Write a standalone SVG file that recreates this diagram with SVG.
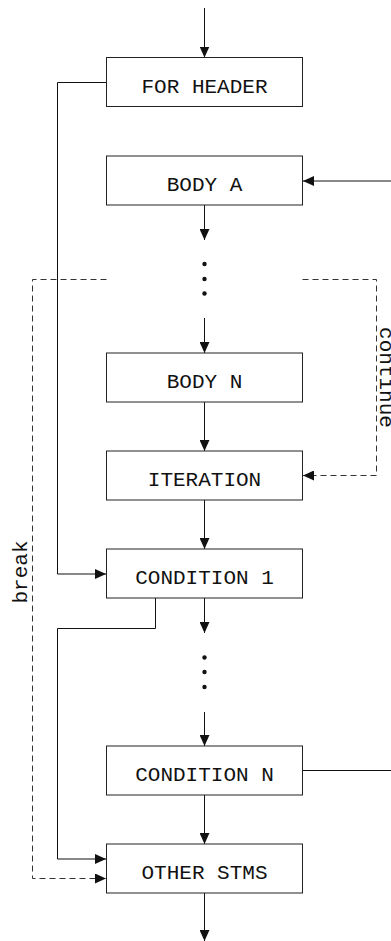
<svg xmlns="http://www.w3.org/2000/svg" width="391" height="941" viewBox="0 0 391 941">
<style>
.box{fill:#fff;stroke:#222;stroke-width:1}
.lbl{font-family:"Liberation Mono","DejaVu Sans Mono",monospace;font-size:21px;fill:#111;text-anchor:middle}
.ln{fill:none;stroke:#111;stroke-width:1}
.dash{fill:none;stroke:#333;stroke-width:1;stroke-dasharray:6 4}
.dot{fill:#111}
</style>
<defs>
<marker id="ah" viewBox="0 0 11 10" refX="11" refY="5" markerWidth="11" markerHeight="10" markerUnits="userSpaceOnUse" orient="auto">
<path d="M0,0 L11,5 L0,10 Z" fill="#111"/>
</marker>
</defs>
<g id="connectors">
<path class="ln" d="M204.5,8 V57.5" marker-end="url(#ah)"/>
<path class="ln" d="M106.5,82.5 H57.5 V574 H106" marker-end="url(#ah)"/>
<path class="ln" d="M391,181 H303" marker-end="url(#ah)"/>
<path class="ln" d="M204.5,205 V240" marker-end="url(#ah)"/>
<path class="ln" d="M204.5,318 V353" marker-end="url(#ah)"/>
<path class="ln" d="M204.5,402 V451" marker-end="url(#ah)"/>
<path class="ln" d="M204.5,500 V549" marker-end="url(#ah)"/>
<path class="ln" d="M204.5,598 V633" marker-end="url(#ah)"/>
<path class="ln" d="M204.5,712 V746" marker-end="url(#ah)"/>
<path class="ln" d="M204.5,795 V844" marker-end="url(#ah)"/>
<path class="ln" d="M204.5,893 V941" marker-end="url(#ah)"/>
<path class="ln" d="M155.5,598 V628.5 H57.5 V859 H106" marker-end="url(#ah)"/>
<path class="ln" d="M303,770.5 H391"/>
<path class="dash" d="M106.5,279.5 H32.5 V878.5 H106" marker-end="url(#ah)"/>
<path class="dash" d="M302.5,279.5 H376.5 V475.5 H303" marker-end="url(#ah)"/>
<circle class="dot" cx="204.5" cy="264" r="2.2"/>
<circle class="dot" cx="204.5" cy="279" r="2.2"/>
<circle class="dot" cx="204.5" cy="293.5" r="2.2"/>
<circle class="dot" cx="204.5" cy="657.5" r="2.2"/>
<circle class="dot" cx="204.5" cy="672" r="2.2"/>
<circle class="dot" cx="204.5" cy="687" r="2.2"/>
<text class="lbl" transform="translate(27,572) rotate(-90)">break</text>
<text class="lbl" transform="translate(380,377.5) rotate(90)">continue</text>
</g>
<g id="for-header"><rect class="box" x="106.5" y="57.5" width="196" height="49"/><text class="lbl" x="204.5" y="92.5">FOR HEADER</text></g>
<g id="body-a"><rect class="box" x="106.5" y="156" width="196" height="49"/><text class="lbl" x="204.5" y="191">BODY A</text></g>
<g id="body-n"><rect class="box" x="106.5" y="353" width="196" height="49"/><text class="lbl" x="204.5" y="388">BODY N</text></g>
<g id="iteration"><rect class="box" x="106.5" y="451" width="196" height="49"/><text class="lbl" x="204.5" y="486">ITERATION</text></g>
<g id="condition-1"><rect class="box" x="106.5" y="549" width="196" height="49"/><text class="lbl" x="204.5" y="584">CONDITION 1</text></g>
<g id="condition-n"><rect class="box" x="106.5" y="746" width="196" height="49"/><text class="lbl" x="204.5" y="781">CONDITION N</text></g>
<g id="other-stms"><rect class="box" x="106.5" y="844" width="196" height="49"/><text class="lbl" x="204.5" y="879">OTHER STMS</text></g>
</svg>
